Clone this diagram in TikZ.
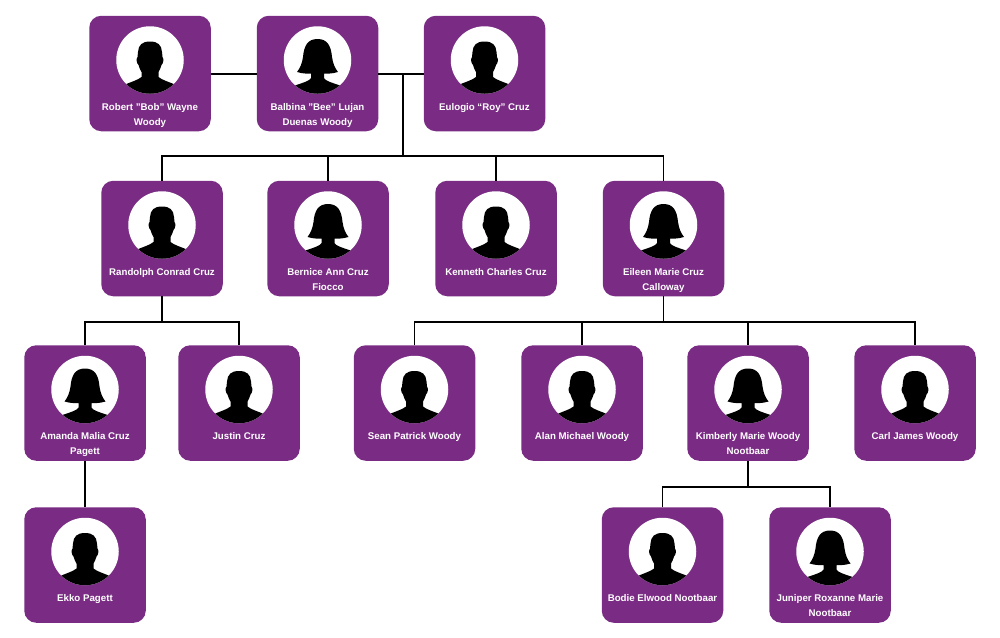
\documentclass[tikz,border=0pt]{standalone}
\usepackage{fontspec}
\setmainfont{Liberation Sans}
\definecolor{cardpurple}{RGB}{122,44,132}
\tikzset{
  x=1pt,y=-1pt,
  card/.style={fill=cardpurple,rounded corners=12pt,inner sep=0pt,outer sep=0pt,text=white,
    minimum width=121.5pt,minimum height=115.5pt,font=\bfseries},
  face/.style={circle,fill=white,inner sep=0pt,outer sep=0pt,minimum size=67.5pt},
  link/.style={draw=black,line width=1.4pt},
  shade/.style={fill=black}
}
\newcommand{\malepath}{(0,-18.5) .. controls (8,-18.5) and (11.5,-15) .. (12,-8) -- (12.5,-3) .. controls (14,-1) and (13.5,3) .. (11.5,5) .. controls (11,8) and (9.5,10) .. (8.5,12) -- (8.5,17) .. controls (12,20) and (18,21.5) .. (26,25) -- (26,40) -- (-26,40) -- (-26,25) .. controls (-18,21.5) and (-12,20) .. (-8.5,17) -- (-8.5,12) .. controls (-9.5,10) and (-11,8) .. (-11.5,5) .. controls (-13.5,3) and (-14,-1) .. (-12.5,-3) -- (-12,-8) .. controls (-11.5,-15) and (-8,-18.5) .. (0,-18.5) -- cycle}
\newcommand{\femalepath}{(0,-21) .. controls (10,-21) and (13.5,-14) .. (14.5,-3) .. controls (15.5,4) and (17.5,8) .. (20.5,12) .. controls (14,14) and (10,13.5) .. (6.5,13.5) -- (6.5,18) .. controls (8,21) and (14,22.5) .. (24,26) -- (24,40) -- (-24,40) -- (-24,26) .. controls (-14,22.5) and (-8,21) .. (-6.5,18) -- (-6.5,13.5) .. controls (-10,13.5) and (-14,14) .. (-20.5,12) .. controls (-17.5,8) and (-15.5,4) .. (-14.5,-3) .. controls (-13.5,-14) and (-10,-21) .. (0,-21) -- cycle}
% name, centre x, top y, silhouette path, text
\newcommand{\person}[5]{%
  \node[card] (#1) at (#2,#3+57.5) {\parbox[c][115pt][t]{121pt}{\centering\fontsize{9.7}{15}\selectfont\vspace*{87pt}#5\par}};
  \node[face] (#1face) at (#2,#3+44) {};
  \begin{scope}
    \clip (#2,#3+44) circle (33.75pt);
    \begin{scope}[shift={(#2,#3+44)}]
      \fill[shade] #4;
    \end{scope}
  \end{scope}
}
\begin{document}
\begin{tikzpicture}
\useasboundingbox (0,0) rectangle (1000,637);
\person{rob}{150}{16}{\malepath}{Robert "Bob" Wayne\\Woody}
\person{bal}{317.5}{16}{\femalepath}{Balbina "Bee" Lujan\\Duenas Woody}
\person{eul}{484.5}{16}{\malepath}{Eulogio “Roy” Cruz}
\person{ran}{162}{181}{\malepath}{Randolph Conrad Cruz}
\person{ber}{328}{181}{\femalepath}{Bernice Ann Cruz\\Fiocco}
\person{ken}{496}{181}{\malepath}{Kenneth Charles Cruz}
\person{eil}{663.5}{181}{\femalepath}{Eileen Marie Cruz\\Calloway}
\person{ama}{85}{345.5}{\femalepath}{Amanda Malia Cruz\\Pagett}
\person{jus}{239}{345.5}{\malepath}{Justin Cruz}
\person{sea}{414.5}{345.5}{\malepath}{Sean Patrick Woody}
\person{ala}{582}{345.5}{\malepath}{Alan Michael Woody}
\person{kim}{748}{345.5}{\femalepath}{Kimberly Marie Woody\\Nootbaar}
\person{car}{915}{345.5}{\malepath}{Carl James Woody}
\person{ekk}{85}{507.5}{\malepath}{Ekko Pagett}
\person{bod}{662.5}{507.5}{\malepath}{Bodie Elwood Nootbaar}
\person{jun}{830}{507.5}{\femalepath}{Juniper Roxanne Marie\\Nootbaar}
% junctions
\coordinate (j0) at (403,74);
\coordinate (j1) at (403,156);
\coordinate (j2) at (162,322);
\coordinate (j3) at (663.5,322);
\coordinate (j4) at (748,487);
% couple lines
\draw[link] (rob.east |- j0) -- (bal.west |- j0);
\draw[link] (bal.east |- j0) -- (eul.west |- j0);
% first generation
\draw[link] (j0) -- (j1);
\draw[link] (ran.north) -- (ran.north |- j1) -- (eil.north |- j1) -- (eil.north);
\draw[link] (ber.north) -- (ber.north |- j1);
\draw[link] (ken.north) -- (ken.north |- j1);
% Randolph's children
\draw[link] (ran.south) -- (j2);
\draw[link] (ama.north) -- (ama.north |- j2) -- (jus.north |- j2) -- (jus.north);
% Eileen's children
\draw[link] (eil.south) -- (j3);
\draw[link] (sea.north) -- (sea.north |- j3) -- (car.north |- j3) -- (car.north);
\draw[link] (ala.north) -- (ala.north |- j3);
\draw[link] (kim.north) -- (kim.north |- j3);
% Amanda's child
\draw[link] (ama.south) -- (ekk.north);
% Kimberly's children
\draw[link] (kim.south) -- (j4);
\draw[link] (bod.north) -- (bod.north |- j4) -- (jun.north |- j4) -- (jun.north);
\end{tikzpicture}
\end{document}
